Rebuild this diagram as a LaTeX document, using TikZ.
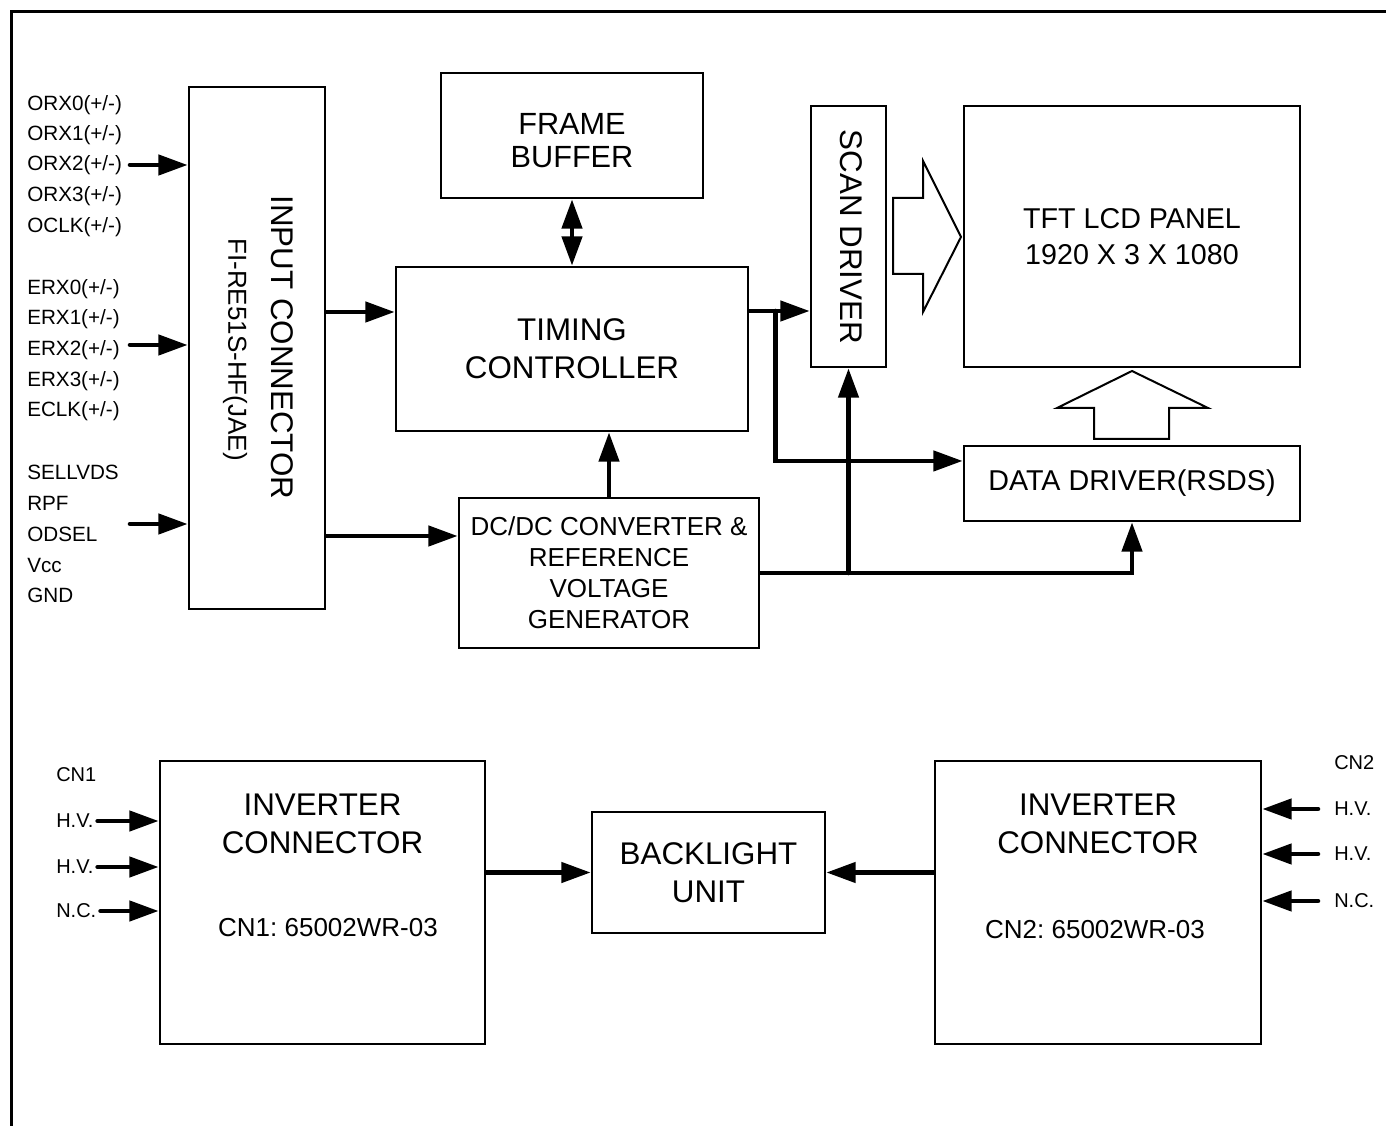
\documentclass[tikz,border=0pt]{standalone}
\usepackage{fontspec}
\setmainfont{Liberation Sans}
\usetikzlibrary{arrows.meta}
\frenchspacing

\tikzset{
  blk/.style={draw, line width=2pt, inner sep=0pt, align=center},
  big/.style={align=center, inner sep=0pt, font=\fontsize{23.5}{28.5}\selectfont},
  mid/.style={align=center, inner sep=0pt, font=\fontsize{19.5}{23.3}\selectfont},
  pnl/.style={font=\fontsize{21.5}{27}\selectfont},
  lbl/.style={anchor=west, inner sep=0pt, font=\fontsize{15.5}{18}\selectfont},
  sml/.style={anchor=west, inner sep=0pt, font=\fontsize{15}{17}\selectfont},
  arr/.style={-{Triangle[length=22pt,width=15pt]}, line width=3.4pt, line cap=round},
  dbl/.style={{Triangle[length=22pt,width=15pt]}-{Triangle[length=22pt,width=15pt]}, line width=3.4pt},
  hol/.style={draw, line width=1.5pt, line join=miter}
}

\begin{document}
\begin{tikzpicture}[x=0.75pt, y=-0.75pt]
\useasboundingbox (0,0) rectangle (1386,1126);
\draw[line width=2.25pt] (11,1126) -- (11,12) -- (1386,12);

% upper blocks
\node[blk, minimum width=102pt, minimum height=391.5pt] (inconn) at (257,348) {};
\node[big, rotate=-90] (inconnA) at (282,347.5) {INPUT CONNECTOR};
\node[mid, rotate=-90] (inconnB) at (235,349.5) {FI-RE51S-HF(JAE)};
\node[blk, minimum width=196.5pt, minimum height=93.75pt] (fbuf) at (572,135.5) {};
\node[font=\fontsize{23}{25}\selectfont, align=center, inner sep=0pt] (fbufA) at (572,140.5) {FRAME\\BUFFER};
\node[blk, big, draw, minimum width=264pt, minimum height=123pt] (tcon) at (572,349) {TIMING\\CONTROLLER};
\node[blk, mid, draw, minimum width=225pt, minimum height=112.5pt] (dcdc) at (609,573) {DC/DC CONVERTER \&\\REFERENCE\\VOLTAGE\\GENERATOR};
\node[blk, minimum width=56.25pt, minimum height=195.75pt] (scan) at (848.5,236.5) {};
\node[big, rotate=-90] (scanA) at (851,237) {SCAN DRIVER};
\node[blk, pnl, minimum width=252pt, minimum height=195.75pt] (panel) at (1132,236.5) {TFT LCD PANEL\\1920 X 3 X 1080};
\node[blk, pnl, minimum width=252pt, minimum height=56.25pt] (ddrv) at (1132,483.5) {DATA DRIVER(RSDS)};

% input signals
\node[lbl] (orx0) at (27,105) {ORX0(+/-)};
\node[lbl] (orx1) at (27,135) {ORX1(+/-)};
\node[lbl] (orx2) at (27,165) {ORX2(+/-)};
\node[lbl] (orx3) at (27,196) {ORX3(+/-)};
\node[lbl] (oclk) at (27,227) {OCLK(+/-)};
\node[lbl] (erx0) at (27,289) {ERX0(+/-)};
\node[lbl] (erx1) at (27,319) {ERX1(+/-)};
\node[lbl] (erx2) at (27,350) {ERX2(+/-)};
\node[lbl] (erx3) at (27,381) {ERX3(+/-)};
\node[lbl] (eclk) at (27,411) {ECLK(+/-)};
\node[lbl] (sell) at (27,472) {SELLVDS};
\node[lbl] (rpf) at (27,503) {RPF};
\node[lbl] (odsel) at (27,534) {ODSEL};
\node[lbl] (vcc) at (27,565) {Vcc};
\node[lbl] (gnd) at (27,595) {GND};

\coordinate (inO) at (130,165);
\coordinate (inE) at (130,345);
\coordinate (inS) at (130,524);
\draw[arr] (inO) -- (inO -| inconn.west);
\draw[arr] (inE) -- (inE -| inconn.west);
\draw[arr] (inS) -- (inS -| inconn.west);

% data paths
\coordinate (tin) at ([yshift=27.75pt]tcon.west);
\coordinate (din) at ([yshift=27.75pt]dcdc.west);
\coordinate (tout) at ([yshift=28.5pt]tcon.east);
\coordinate (tbr) at ([xshift=19.5pt]tout);
\coordinate (ddin) at ([yshift=16.9pt]ddrv.west);
\draw[arr] (inconn.east |- tin) -- (tin);
\draw[arr] (inconn.east |- din) -- (din);
\draw[dbl] (fbuf.south) -- (tcon.north);
\draw[arr] (dcdc.north) -- (dcdc.north |- tcon.south);
\draw[arr] (tout) -- (tout -| scan.west);
\draw[arr] (tbr) |- (ddin);
\draw[arr] (dcdc.east) -| (ddrv.south);
\draw[arr] (dcdc.east -| scan.south) -- (scan.south);

% hollow arrows
\draw[hol] (893,198) -- (923,198) -- (923,161) -- (961,237) -- (923,312) -- (923,274) -- (893,274) -- cycle;
\draw[hol] (1094,439) -- (1094,408) -- (1057,408) -- (1132,371) -- (1208,408) -- (1169,408) -- (1169,439) -- cycle;

% backlight part
\node[blk, minimum width=243.75pt, minimum height=212.25pt] (inv1) at (322.5,902.5) {};
\node[big] (inv1A) at (322.5,824) {INVERTER\\CONNECTOR};
\node[mid] (inv1B) at (328,928) {CN1: 65002WR-03};
\node[blk, big, minimum width=174.75pt, minimum height=90.75pt] (blu) at (708.5,872.5) {BACKLIGHT\\UNIT};
\node[blk, minimum width=244.5pt, minimum height=212.25pt] (inv2) at (1098,902.5) {};
\node[big] (inv2A) at (1098,824) {INVERTER\\CONNECTOR};
\node[mid] (inv2B) at (1095,930) {CN2: 65002WR-03};

\node[sml] (cn1) at (56,775) {CN1};
\node[sml] (hvA) at (56,821) {H.V.};
\node[sml] (hvB) at (56,867) {H.V.};
\node[sml] (ncA) at (56,911) {N.C.};
\node[sml] (cn2) at (1334,763) {CN2};
\node[sml] (hvC) at (1334,809) {H.V.};
\node[sml] (hvD) at (1334,854) {H.V.};
\node[sml] (ncB) at (1334,901) {N.C.};

\draw[arr] ([xshift=3pt]hvA.east) -- (hvA -| inv1.west);
\draw[arr] ([xshift=3pt]hvB.east) -- (hvB -| inv1.west);
\draw[arr] ([xshift=3pt]ncA.east) -- (ncA -| inv1.west);
\draw[arr] ([xshift=-12pt]hvC.west) -- (hvC -| inv2.east);
\draw[arr] ([xshift=-12pt]hvD.west) -- (hvD -| inv2.east);
\draw[arr] ([xshift=-12pt]ncB.west) -- (ncB -| inv2.east);
\draw[arr] (inv1.east |- blu.west) -- (blu.west);
\draw[arr] (inv2.west |- blu.east) -- (blu.east);
\end{tikzpicture}
\end{document}
